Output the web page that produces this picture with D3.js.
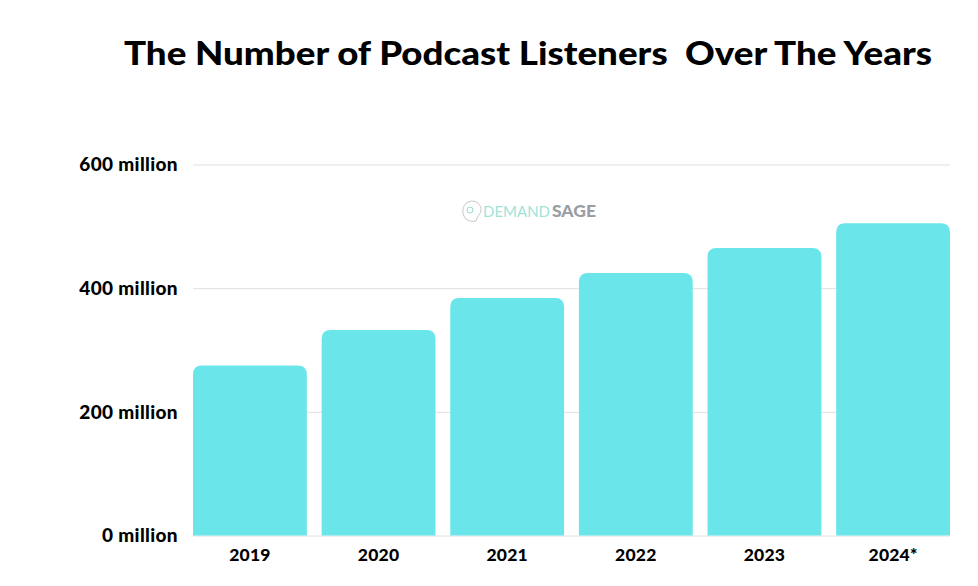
<!DOCTYPE html>
<html><head><meta charset="utf-8">
<script src="https://cdn.jsdelivr.net/npm/d3@7"></script>
<style>html,body{margin:0;padding:0;background:#fff}svg{display:block}text{font-family:Lato,sans-serif}</style>
</head><body><svg id="c" width="978" height="586"></svg>
<script>
const categories = ["2019","2020","2021","2022","2023","2024*"];
const listeners = [275,332.5,384,424.5,465,505];
const yTicks = [0,200,400,600];
const titleText = "The Number of Podcast Listeners  Over The Years";

const svg = d3.select("#c");
const x = d3.scaleBand().domain(categories).range([193,950]).paddingInner(0.115);
const y = d3.scaleLinear().domain([0,600]).range([535.5,164.5]);

svg.append("text").attr("x",124).attr("y",64.5).attr("xml:space","preserve")
  .style("white-space","pre").attr("font-size",33).attr("font-weight",900)
  .attr("fill","#000").attr("textLength",808).attr("lengthAdjust","spacingAndGlyphs").text(titleText);

const yAxis = svg.append("g").attr("transform","translate(193,0)")
  .call(d3.axisLeft(y).tickValues(yTicks).tickSize(-757).tickPadding(15).tickFormat(d=>d+" million"));
yAxis.select(".domain").remove();
yAxis.selectAll(".tick line").attr("stroke","#e0e0e0").attr("stroke-width",1);
yAxis.selectAll("text").attr("font-size",19).attr("font-weight",900).attr("fill","#000")
  .attr("letter-spacing",0.35).attr("font-family","Lato,sans-serif").attr("dy","0.33em");

const r = 9;
svg.append("g").selectAll("path").data(categories).join("path")
  .attr("fill","#6ae6ea")
  .attr("d",(c,i)=>{
    const l=x(c), w=x.bandwidth(), t=y(listeners[i]), b=y(0);
    const p=d3.path();
    p.moveTo(l,b); p.lineTo(l,t+r); p.quadraticCurveTo(l,t,l+r,t);
    p.lineTo(l+w-r,t); p.quadraticCurveTo(l+w,t,l+w,t+r); p.lineTo(l+w,b); p.closePath();
    return p.toString();
  });

const xAxis = svg.append("g").attr("transform","translate(0,535.5)")
  .call(d3.axisBottom(x).tickSize(0).tickPadding(13));
xAxis.select(".domain").remove();
xAxis.selectAll("text").attr("font-size",17.5).attr("font-weight",900).attr("fill","#000")
  .attr("letter-spacing",0.2).attr("font-family","Lato,sans-serif");

// watermark
const wm = svg.append("g");
wm.append("path").attr("fill","none").attr("stroke","#c4c8c8").attr("stroke-width",1)
  .attr("d","M466 219 C461 214 462 205 468 202 C475 199 482 204 481 211 C480 215 477 216 476 221 C472 222 469 221 466 219Z");
wm.append("circle").attr("cx",470).attr("cy",210).attr("r",3).attr("fill","none").attr("stroke","#8fdcd2").attr("stroke-width",1);
wm.append("text").attr("x",483).attr("y",217).attr("font-size",16).attr("font-weight",400)
  .attr("fill","#9fe3d8").attr("textLength",67).attr("lengthAdjust","spacingAndGlyphs").text("DEMAND");
wm.append("text").attr("x",552).attr("y",217).attr("font-size",16).attr("font-weight",900)
  .attr("fill","#9a9ea2").attr("textLength",44).attr("lengthAdjust","spacingAndGlyphs").text("SAGE");
</script></body></html>
